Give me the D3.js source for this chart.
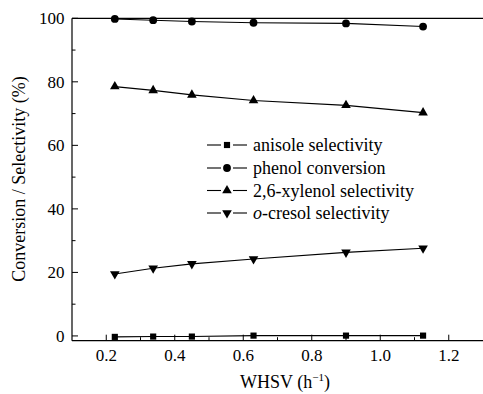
<!DOCTYPE html>
<html><head><meta charset="utf-8">
<script src="https://cdn.jsdelivr.net/npm/d3@7"></script>
<style>body{margin:0;background:#fff;} svg{display:block;}</style>
</head><body>
<svg id="c" width="483" height="394"></svg>
<script>
const whsv = [0.225, 0.337, 0.45, 0.63, 0.9, 1.125];
const anisole = [-0.3, -0.2, -0.2, 0.1, 0.1, 0.1];
const phenol = [99.8, 99.4, 99.0, 98.6, 98.4, 97.4];
const xylenol = [78.5, 77.3, 75.9, 74.1, 72.6, 70.3];
const cresol = [19.5, 21.3, 22.7, 24.2, 26.3, 27.6];
const seriesNames = ["anisole selectivity", "phenol conversion", "2,6-xylenol selectivity", "o-cresol selectivity"];
const xTicks = [0.2, 0.4, 0.6, 0.8, 1.0, 1.2];
const yTicks = [0, 20, 40, 60, 80, 100];

const FONT = "'Liberation Serif', 'Times New Roman', serif";
const svg = d3.select("#c");
const L = 72, R = 483, T = 18.3, B = 340.7;
const x = d3.scaleLinear().domain([0.1, 1.3]).range([L, R]);
const y = d3.scaleLinear().domain([-1.5, 100]).range([B, T]);

function txt(sel) { return sel.append("text").style("font-family", FONT).attr("fill", "#000"); }

svg.append("line").attr("x1", L).attr("x2", L).attr("y1", T).attr("y2", B).attr("stroke", "#000").attr("stroke-width", 1.2);
svg.append("line").attr("x1", L).attr("x2", R).attr("y1", B).attr("y2", B).attr("stroke", "#000").attr("stroke-width", 1.2);
svg.append("line").attr("x1", L).attr("x2", R).attr("y1", T).attr("y2", T).attr("stroke", "#000").attr("stroke-width", 1.2);

const yMinor = d3.range(10, 100, 20);
yTicks.forEach(v => {
  svg.append("line").attr("x1", L).attr("x2", L + 6).attr("y1", y(v)).attr("y2", y(v)).attr("stroke", "#000");
  txt(svg).attr("x", 64.5).attr("y", y(v)).attr("dy", "0.35em").attr("text-anchor", "end").attr("font-size", 17).text(v);
});
yMinor.forEach(v => {
  svg.append("line").attr("x1", L).attr("x2", L + 3.5).attr("y1", y(v)).attr("y2", y(v)).attr("stroke", "#000");
});
const xMinor = [0.3, 0.5, 0.7, 0.9, 1.1];
xTicks.forEach(v => {
  svg.append("line").attr("x1", x(v)).attr("x2", x(v)).attr("y1", B).attr("y2", B - 6).attr("stroke", "#000");
  txt(svg).attr("x", x(v)).attr("y", 361).attr("text-anchor", "middle").attr("font-size", 17).text(d3.format(".1f")(v));
});
xMinor.forEach(v => {
  svg.append("line").attr("x1", x(v)).attr("x2", x(v)).attr("y1", B).attr("y2", B - 3.5).attr("stroke", "#000");
});

const xt = txt(svg).attr("x", 285).attr("y", 388).attr("text-anchor", "middle").attr("font-size", 18);
xt.append("tspan").text("WHSV (h");
xt.append("tspan").attr("font-size", 11).attr("dy", -7).text("\u22121");
xt.append("tspan").attr("dy", 7).text(")");
txt(svg).attr("transform", `translate(25,179) rotate(-90)`).attr("text-anchor", "middle").attr("font-size", 18).text("Conversion / Selectivity (%)");

const markerSym = [d3.symbolSquare, d3.symbolCircle, d3.symbolTriangle, d3.symbolTriangle];
const markerSize = [38, 48, 40, 40];
const data = [anisole, phenol, xylenol, cresol];
const line = d3.line().x(d => x(d[0])).y(d => y(d[1]));

function drawMarker(g, i, cx, cy) {
  const p = g.append("path").attr("d", d3.symbol(markerSym[i], markerSize[i])()).attr("fill", "#000");
  if (i === 3) p.attr("transform", `translate(${cx},${cy}) rotate(180)`);
  else p.attr("transform", `translate(${cx},${cy})`);
}

data.forEach((s, i) => {
  const pts = whsv.map((w, j) => [w, s[j]]);
  svg.append("path").attr("d", line(pts)).attr("fill", "none").attr("stroke", "#000").attr("stroke-width", 1.1);
  const g = svg.append("g");
  pts.forEach(p => drawMarker(g, i, x(p[0]), y(p[1])));
});

const legY = [145, 168, 190.5, 213];
seriesNames.forEach((n, i) => {
  const ly = legY[i];
  svg.append("line").attr("x1", 207).attr("x2", 221).attr("y1", ly).attr("y2", ly).attr("stroke", "#000").attr("stroke-width", 1.1);
  svg.append("line").attr("x1", 233).attr("x2", 247).attr("y1", ly).attr("y2", ly).attr("stroke", "#000").attr("stroke-width", 1.1);
  drawMarker(svg, i, 227, ly);
  const t = txt(svg).attr("x", 253).attr("y", ly).attr("dy", "0.35em").attr("font-size", 18);
  if (n.startsWith("o-")) {
    t.append("tspan").attr("font-style", "italic").text("o");
    t.append("tspan").text(n.slice(1));
  } else t.text(n);
});
</script>
</body></html>
